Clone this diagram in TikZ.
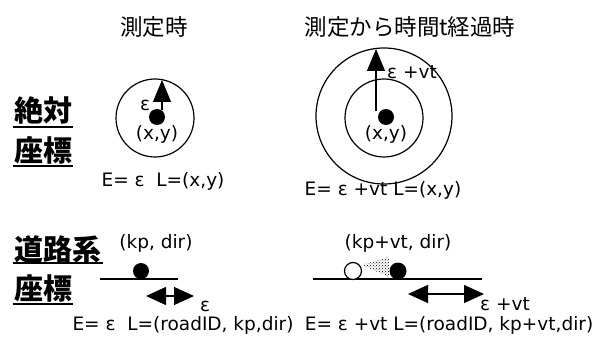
\documentclass[tikz,border=0pt]{standalone}
\usepackage{fontspec}
\setmainfont{DejaVu Sans}
\newfontfamily\cjk{Noto Sans CJK JP}
\usetikzlibrary{arrows.meta,patterns}
\begin{document}
\begin{tikzpicture}[x=1pt,y=-1pt,
  lbl/.style={font=\fontsize{18.5}{20}\selectfont, inner sep=0pt},
  ttl/.style={font=\cjk\fontsize{22.5}{25}\selectfont, inner sep=0pt},
  big/.style={font=\cjk\bfseries\fontsize{29}{32}\selectfont, inner sep=0pt},
  ring/.style={draw, line width=1.2pt, circle, inner sep=0pt},
  blob/.style={fill, circle, inner sep=0pt},
  uline/.style={line width=2pt},
  road/.style={line width=1.2pt},
  bigarrow/.style={line width=1.2pt, -{Triangle[length=22pt,width=18pt]}},
  dblarrow/.style={line width=1.2pt, {Triangle[length=20pt,width=18pt]}-{Triangle[length=20pt,width=18pt]}},
]
\useasboundingbox (0,0) rectangle (600,342);
\fill[white] (0,0) rectangle (600,342);

% titles
\node[ttl] (t1) at (154,27) {測定時};
\node[ttl] (t2) at (410,27) {測定から時間t経過時};

% row labels
\node[big] (abs1) at (43,110) {絶対};
\draw[uline] (13,127) -- (73,127);
\node[big] (coord1) at (43,150) {座標};
\draw[uline] (13,166) -- (73,166);
\node[big] (road1) at (58,249) {道路系};
\draw[uline] (13,263) -- (103,263);
\node[big] (coord2) at (43,288) {座標};
\draw[uline] (13,304) -- (73,304);

% absolute, at measurement
\node[ring, minimum size=78pt] (c1) at (155,118) {};
\node[blob, minimum size=16pt] (d1) at (157,117) {};
\coordinate (a1s) at (162,110);
\coordinate (a1e) at (162,80);
\draw[bigarrow] (a1s) -- (a1e);
\node[lbl] (e1) at (145,105) {ε};
\node[lbl] (xy1) at (157,134) {(x,y)};
\node[lbl] (E1) at (163,181) {E= ε\ \ L=(x,y)};

% absolute, after time t
\node[ring, minimum size=136pt] (c2o) at (384,116) {};
\node[ring, minimum size=78pt] (c2i) at (384,118) {};
\node[blob, minimum size=16pt] (d2) at (386,117) {};
\coordinate (a2s) at (376,111);
\coordinate (a2e) at (376,49);
\draw[bigarrow] (a2s) -- (a2e);
\node[lbl] (e2) at (412,72) {ε +vt};
\node[lbl] (xy2) at (386,134) {(x,y)};
\node[lbl] (E2) at (383,190) {E= ε +vt L=(x,y)};

% road, at measurement
\node[lbl] (kp1) at (156,243) {(kp, dir)};
\coordinate (r1a) at (100,279);
\coordinate (r1b) at (178,279);
\draw[road] (r1a) -- (r1b);
\node[blob, minimum size=16pt] (d3) at (141,271) {};
\coordinate (b1a) at (146,296);
\coordinate (b1b) at (194,296);
\draw[dblarrow] (b1a) -- (b1b);
\node[lbl] (e3) at (205,306) {ε};
\node[lbl] (E3) at (183,325) {E= ε\ \ L=(roadID, kp,dir)};

% road, after time t
\node[lbl] (kp2) at (398,243) {(kp+vt, dir)};
\coordinate (r2a) at (313,279);
\coordinate (r2b) at (482,279);
\draw[road] (r2a) -- (r2b);
\fill[pattern=crosshatch dots, pattern color=black] (362,265) -- (389,257) -- (389,277) -- cycle;
\node[ring, fill=white, minimum size=17pt] (o4) at (353,271) {};
\node[blob, minimum size=17pt] (d4) at (398,271) {};
\coordinate (b2a) at (408,294);
\coordinate (b2b) at (484,294);
\draw[dblarrow] (b2a) -- (b2b);
\node[lbl] (e4) at (505,304) {ε +vt};
\node[lbl] (E4) at (449,325) {E= ε +vt L=(roadID, kp+vt,dir)};
\end{tikzpicture}
\end{document}
